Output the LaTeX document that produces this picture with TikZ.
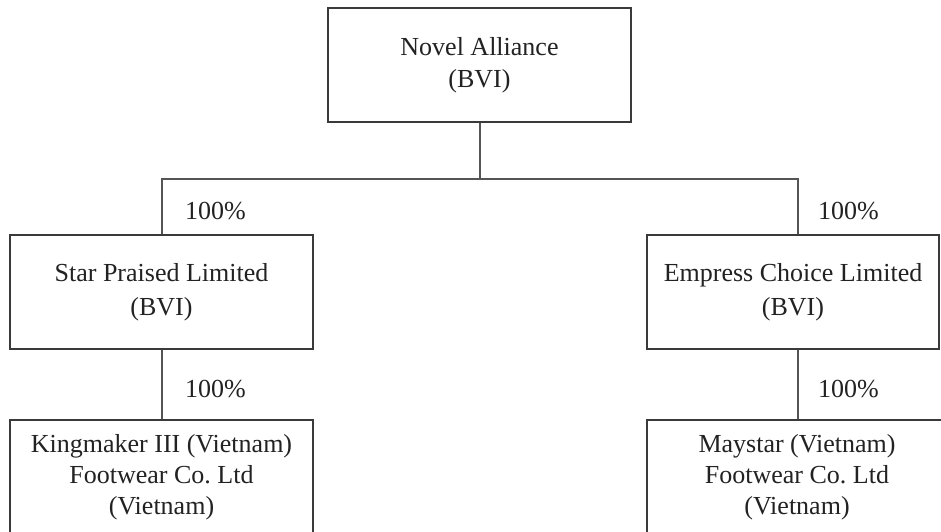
\documentclass[tikz,border=0pt]{standalone}
\usepackage{fontspec}
\setmainfont{Liberation Serif}
\frenchspacing
\begin{document}
\begin{tikzpicture}[x=1pt,y=-1pt,
  entity/.style={draw=boxline, line width=1.6pt, minimum width=303pt, minimum height=114pt,
    inner sep=0pt, align=center, text=txt, font=\fontsize{26}{32}\selectfont},
  label3/.style={inner sep=0pt, align=center, text=txt, font=\fontsize{26}{31}\selectfont},
  link/.style={draw=linkline, line width=2pt},
  pct/.style={anchor=base west, inner sep=0pt, text=txt, font=\fontsize{26}{32}\selectfont}]
\definecolor{boxline}{HTML}{3A3A3A}
\definecolor{linkline}{HTML}{555555}
\definecolor{txt}{HTML}{222222}
\useasboundingbox[fill=white] (0,0) rectangle (941,531);
\node[entity] (top) at (479.5,65) {Novel Alliance\\(BVI)};
\node[entity, font=\fontsize{26}{34}\selectfont] (lm) at (161.5,292) {Star Praised Limited\\(BVI)};
\node[entity, font=\fontsize{26}{34}\selectfont, minimum width=292pt] (rm) at (793,292) {Empress Choice Limited\\(BVI)};
\node[entity, font=\fontsize{26}{31}\selectfont] (lb) at (161.5,477) {Kingmaker III (Vietnam)\\Footwear Co. Ltd\\(Vietnam)};
\node[entity, minimum width=330pt] (rb) at (812,477) {};
\node[label3] (rbt) at (797,477) {Maystar (Vietnam)\\Footwear Co. Ltd\\(Vietnam)};
\coordinate (j) at (479.5,179);
\coordinate (rj) at (798,0);
\draw[link] (top.south) -- (top.south |- j);
\draw[link] (lm.north) |- (rj |- j) -- (rj |- rm.north);
\draw[link] (lm.south) -- (lb.north);
\draw[link] (rj |- rm.south) -- (rj |- rb.north);
\node[pct] (p1) at (185,219) {100\%};
\node[pct] (p2) at (818,219) {100\%};
\node[pct] (p3) at (185,397) {100\%};
\node[pct] (p4) at (818,397) {100\%};
\end{tikzpicture}
\end{document}
